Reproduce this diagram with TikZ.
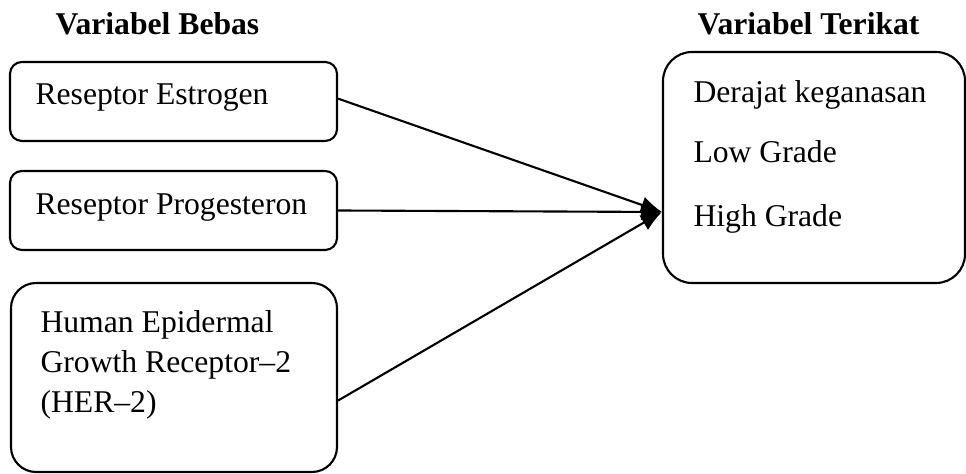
\documentclass[tikz,border=0pt]{standalone}
\usepackage{fontspec}
\setmainfont{Liberation Serif}
\usetikzlibrary{positioning,fit,arrows.meta}
\tikzset{kotak/.style={draw,line width=0.8pt,inner sep=0pt,rounded corners=#1},
        kotak/.default=4.5pt,
        teks/.style={anchor=base west,inner sep=0pt,font=\fontsize{12}{14}\selectfont},
        judul/.style={teks,font=\fontsize{12}{14}\selectfont\bfseries},
        panah/.style={line width=0.8pt,-{Latex[length=8pt,width=6.5pt]}}}

\begin{document}
\begin{tikzpicture}[x=0.379pt,y=-0.379pt]
  \useasboundingbox (0,0) rectangle (966,474);
  % judul
  \node[judul] (bebas) at (55,35) {Variabel Bebas};
  \node[judul] (terikat) at (697,35) {Variabel Terikat};
  % variabel bebas
  \node[kotak,fit={(10,62) (337,141)}] (er) {};
  \node[teks] (erT) at (35,105) {Reseptor Estrogen};
  \node[kotak,fit={(10,171) (337,250)}] (pr) {};
  \node[teks] (prT) at (35,215) {Reseptor Progesteron};
  \node[kotak=9.5pt,fit={(11,283) (337,472)}] (her) {};
  \node[teks] (herA) at (40,333) {Human Epidermal};
  \node[teks] (herB) at (40,373) {Growth Receptor--2};
  \node[teks] (herC) at (40,413) {(HER--2)};
  % variabel terikat
  \node[kotak=11pt,fit={(663,52) (965,283)}] (grade) {};
  \node[teks] (gA) at (693,103) {Derajat keganasan};
  \node[teks] (gB) at (693,163) {Low Grade};
  \node[teks] (gC) at (693,227) {High Grade};
  \coordinate (ujung) at (662,212);
  % panah
  \draw[panah] (er.1.6) -- (ujung);
  \draw[panah] (pr.0) -- (ujung);
  \draw[panah] (her.-8.4) -- (ujung);
\end{tikzpicture}
\end{document}
